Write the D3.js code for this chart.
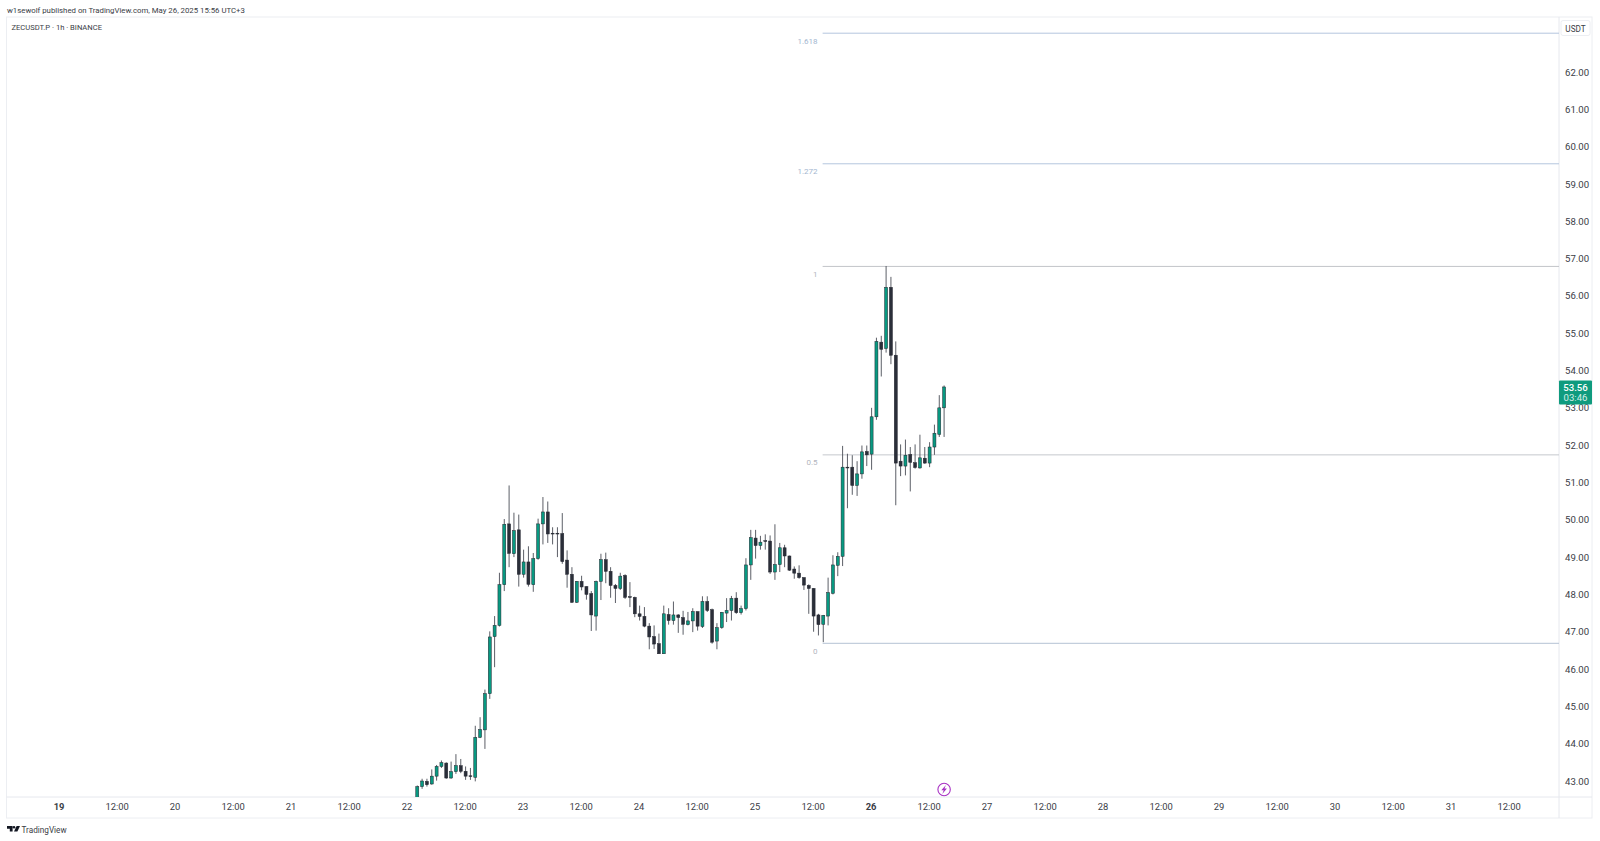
<!DOCTYPE html>
<html>
<head>
<meta charset="utf-8">
<script src="https://cdnjs.cloudflare.com/ajax/libs/d3/7.8.5/d3.min.js"></script>
<style>
  html, body { margin: 0; padding: 0; background: #fff; }
  svg { display: block; }
  text { font-family: Roboto, "Open Sans", sans-serif; }
</style>
</head>
<body>
<div id="chart"></div>
<script>
// First candle of the visible run, one candle per hour after that
const firstCandle = Date.UTC(2025, 4, 22, 2);

const candleOpen = [42.5,42.85,42.99,42.92,43.13,43.39,43.48,43.08,43.25,43.41,43.26,43.14,43.1,44.17,44.37,45.34,46.87,47.17,48.26,49.89,49.09,49.73,48.54,48.87,48.26,48.96,49.89,50.21,49.64,49.64,49.63,48.92,48.54,47.79,48.35,48.21,48.02,47.42,48.35,48.93,48.62,48.24,48.16,48.51,47.94,47.92,47.48,47.41,47.15,46.87,46.68,46.41,47.46,47.3,47.45,47.38,47.19,47.29,47.54,47.14,47.81,47.59,46.75,47.11,47.5,47.57,47.9,47.51,47.62,48.79,49.51,49.31,49.44,49.43,48.6,48.8,49.25,49.03,48.68,48.57,48.45,48.24,48.16,47.45,47.2,47.42,48.03,48.78,49.02,51.41,51.41,50.92,51.23,51.83,51.76,52.76,54.76,54.59,56.23,54.41,51.57,51.44,51.75,51.53,51.39,51.65,51.52,51.95,52.29,53.0];
const candleHigh = [42.88,43.06,43.06,43.31,43.43,43.55,43.5,43.52,43.72,43.59,43.39,43.35,44.48,44.71,45.45,47.01,47.42,48.58,50.02,50.92,50.19,50.14,49.2,49.29,49.11,50.03,50.61,50.49,49.8,49.8,50.18,49.18,48.73,48.36,48.5,48.22,48.09,48.37,49.09,49.12,48.73,48.28,48.58,48.54,48.33,47.94,47.7,47.66,47.23,47.17,46.95,47.7,47.63,47.81,47.47,47.56,47.53,47.63,47.54,47.95,47.95,47.62,47.23,47.53,47.9,47.96,48.06,47.7,48.97,49.73,49.73,49.57,49.61,49.58,49.88,49.38,49.33,49.04,48.75,48.78,48.46,48.27,48.17,47.48,47.45,48.45,49.05,49.13,51.98,51.77,51.73,51.57,51.99,51.99,53.0,54.88,54.93,56.8,56.51,54.78,52.02,52.15,51.95,52.02,52.28,51.95,52.08,52.55,53.34,53.6];
const candleLow = [42.4,42.79,42.85,42.9,43.01,43.35,43.06,43.06,43.19,43.21,43.03,43.03,42.99,44.15,43.86,45.2,46.05,47.14,48.09,48.73,49.0,48.21,48.45,48.21,48.07,48.93,49.34,49.38,49.34,49.0,48.82,48.18,47.77,47.77,48.11,47.86,47.02,47.03,47.85,48.3,47.91,47.77,48.12,47.88,47.66,47.39,47.3,47.12,46.53,46.54,46.41,46.41,47.19,47.19,46.97,46.92,47.17,46.99,47.03,47.1,47.53,46.68,46.53,47.08,47.26,47.3,47.48,47.46,47.57,48.39,48.96,49.2,49.2,48.55,48.39,48.6,48.73,48.63,48.42,48.42,48.12,47.48,47.0,46.9,46.72,47.17,48.0,48.49,48.76,50.31,50.67,50.64,51.1,51.44,51.34,52.68,53.84,54.48,54.17,50.39,51.17,51.19,50.76,51.37,51.37,51.5,51.41,51.74,52.22,52.22];
const candleClose = [42.85,43.0,42.9,43.13,43.39,43.49,43.08,43.25,43.41,43.26,43.13,43.12,44.17,44.38,45.34,46.86,47.17,48.26,49.88,49.1,49.71,48.54,48.87,48.27,48.96,49.89,50.21,49.62,49.62,49.62,48.88,48.54,47.79,48.35,48.2,48.0,47.45,48.35,48.93,48.62,48.24,48.16,48.49,47.92,47.92,47.48,47.41,47.15,46.86,46.67,46.41,47.48,47.3,47.45,47.38,47.2,47.29,47.54,47.15,47.81,47.57,46.72,47.11,47.52,47.57,47.89,47.51,47.62,48.79,49.52,49.31,49.4,49.43,48.6,48.8,49.25,49.03,48.65,48.57,48.45,48.25,48.16,47.42,47.19,47.44,48.05,48.79,49.02,51.41,51.39,50.92,51.23,51.82,51.74,52.76,54.78,54.57,56.23,54.41,51.52,51.44,51.73,51.54,51.4,51.66,51.52,51.95,52.32,53.0,53.56];

const priceTicks = [43,44,45,46,47,48,49,50,51,52,53,54,55,56,57,58,59,60,61,62];
const fibLevels = [0, 0.5, 1, 1.272, 1.618];
const fibLabels = ['0', '0.5', '1', '1.272', '1.618'];
const fibPrices = [46.69, 51.74, 56.79, 59.54, 63.04];
const fibLineColors = ['#b4c2d4', '#c6c8cd', '#c2c4c9', '#b4c6de', '#b4c6de'];
const fibTextColors = ['#b2b5be', '#b2b5be', '#b2b5be', '#a3b6d0', '#a3b6d0'];
const fibStart = Date.UTC(2025, 4, 25, 13, 52);
const lastPrice = 53.56;
const countdown = '03:46';

const width = 1600, height = 841;
const plot = { left: 6.5, right: 1559, top: 17, bottom: 797 };

const svg = d3.select('#chart').append('svg')
  .attr('width', width)
  .attr('height', height);

// Scales, calibrated on the axis labels
const x = d3.scaleUtc()
  .domain([Date.UTC(2025, 4, 19), Date.UTC(2025, 4, 31)])
  .range([59.6, 1451.6]);
const y = d3.scaleLinear().domain([43, 62]).range([781, 72]);

// Frame
svg.append('rect')
  .attr('x', plot.left).attr('y', plot.top)
  .attr('width', 1592 - plot.left).attr('height', 818 - plot.top)
  .attr('fill', '#fff').attr('stroke', '#eceef2');
svg.append('line').attr('x1', plot.right).attr('x2', plot.right)
  .attr('y1', plot.top).attr('y2', 818).attr('stroke', '#e6e8ee');
svg.append('line').attr('x1', plot.left).attr('x2', 1592)
  .attr('y1', plot.bottom).attr('y2', plot.bottom).attr('stroke', '#e6e8ee');

svg.append('defs').append('clipPath').attr('id', 'plot-clip')
  .append('rect')
  .attr('x', plot.left).attr('y', plot.top)
  .attr('width', plot.right - plot.left).attr('height', plot.bottom - plot.top);

// Header texts
svg.append('text').attr('x', 7).attr('y', 12.5)
  .attr('font-size', 7.8).attr('fill', '#3a3d46')
  .text('w1sewolf published on TradingView.com, May 26, 2025 15:56 UTC+3');
svg.append('text').attr('x', 11.5).attr('y', 30)
  .attr('font-size', 7.6).attr('fill', '#3a3d46')
  .text('ZECUSDT.P · 1h · BINANCE');

// Fib levels
const fibG = svg.append('g');
fibLevels.forEach((level, i) => {
  const yPos = y(fibPrices[i]);
  fibG.append('line')
    .attr('x1', x(fibStart)).attr('x2', plot.right)
    .attr('y1', yPos).attr('y2', yPos)
    .attr('stroke', fibLineColors[i]).attr('stroke-width', 1);
  fibG.append('text')
    .attr('x', x(fibStart) - 5).attr('y', yPos + 10.5)
    .attr('text-anchor', 'end').attr('font-size', 8)
    .attr('fill', fibTextColors[i])
    .text(fibLabels[i]);
});

// Candles
const candles = candleOpen.map((o, i) => ({
  time: firstCandle + i * 3600000,
  open: o, high: candleHigh[i], low: candleLow[i], close: candleClose[i]
}));

const candleG = svg.append('g').attr('clip-path', 'url(#plot-clip)');
const bodyWidth = 3;

candleG.selectAll('.wick').data(candles).enter().append('line')
  .attr('class', 'wick')
  .attr('x1', d => x(d.time)).attr('x2', d => x(d.time))
  .attr('y1', d => y(d.high)).attr('y2', d => y(d.low))
  .attr('stroke', '#4a4d56').attr('stroke-width', 0.9);

candleG.selectAll('.body').data(candles).enter().append('rect')
  .attr('class', 'body')
  .attr('x', d => x(d.time) - bodyWidth / 2)
  .attr('width', bodyWidth)
  .attr('y', d => y(Math.max(d.open, d.close)))
  .attr('height', d => Math.max(0.8, Math.abs(y(d.open) - y(d.close))))
  .attr('fill', d => d.close >= d.open ? '#089981' : '#2a2e39')
  .attr('stroke', '#22252e').attr('stroke-width', 0.5);

// Price axis
const priceAxis = svg.append('g')
  .attr('transform', `translate(${plot.right},0)`)
  .call(d3.axisRight(y).tickValues(priceTicks).tickSize(0).tickPadding(6).tickFormat(d3.format('.2f')));
priceAxis.select('.domain').remove();
priceAxis.selectAll('text').attr('font-size', 9.6).attr('fill', '#3a3d46')
  .attr('font-family', '"Open Sans", Roboto, sans-serif');

// Time axis
const timeTicks = d3.utcHour.range(Date.UTC(2025, 4, 19), Date.UTC(2025, 4, 31, 13), 12);
const timeAxis = svg.append('g')
  .attr('transform', `translate(-1,${plot.bottom + 1})`)
  .call(d3.axisBottom(x).tickValues(timeTicks).tickSize(0).tickPadding(5)
    .tickFormat(d => d.getUTCHours() === 12 ? '12:00' : String(d.getUTCDate())));
timeAxis.select('.domain').remove();
timeAxis.selectAll('text')
  .attr('font-size', 9.4)
  .attr('font-family', '"Open Sans", Roboto, sans-serif')
  .attr('fill', '#3a3d46')
  .attr('font-weight', d => (d.getUTCHours() === 0 && (d.getUTCDate() === 19 || d.getUTCDate() === 26)) ? 700 : 400);

// USDT box
svg.append('rect').attr('x', 1561).attr('y', 20.5).attr('width', 29).attr('height', 15)
  .attr('rx', 2).attr('fill', '#fff').attr('stroke', '#eceef2');
svg.append('text').attr('x', 1575.5).attr('y', 31.5).attr('text-anchor', 'middle')
  .attr('font-size', 8.2).attr('fill', '#3a3d46').text('USDT');

// Last price tag
const tagY = y(lastPrice);
svg.append('rect').attr('x', plot.right).attr('y', tagY - 6.5).attr('width', 33).attr('height', 24)
  .attr('rx', 1).attr('fill', '#0f9b7e');
svg.append('text').attr('x', 1575.5).attr('y', tagY + 4.5).attr('text-anchor', 'middle')
  .attr('font-size', 9.6).attr('font-weight', 500).attr('fill', '#fff').text(lastPrice.toFixed(2));
svg.append('text').attr('x', 1575.5).attr('y', tagY + 14.5).attr('text-anchor', 'middle')
  .attr('font-size', 9.6).attr('fill', '#d4efe8').text(countdown);

// Event marker on the time axis edge
const marker = svg.append('g').attr('transform', `translate(${x(Date.UTC(2025, 4, 26, 15))},789.5)`);
marker.append('circle').attr('r', 6.2).attr('fill', '#fff').attr('stroke', '#a832c4').attr('stroke-width', 1.1);
marker.append('path').attr('d', 'M1.8,-4.4 L-2.8,0.8 L-0.4,0.8 L-1.8,4.4 L2.8,-1 L0.4,-1 Z').attr('fill', '#a832c4');

// TradingView mark
const logo = svg.append('g').attr('transform', 'translate(7,826)').attr('fill', '#131722');
logo.append('path').attr('d', 'M0,0 H5.6 V5.6 H2.8 V2.8 H0 Z');
logo.append('circle').attr('cx', 7).attr('cy', 1.3).attr('r', 1.3);
logo.append('path').attr('d', 'M9.6,0 H13 L10.4,5.6 H7 Z');
svg.append('text').attr('x', 21.5).attr('y', 833).attr('font-size', 8.2)
  .attr('fill', '#3a3d46').text('TradingView');
</script>
</body>
</html>
